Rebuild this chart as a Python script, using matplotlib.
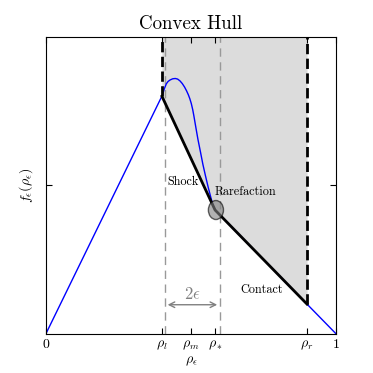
import matplotlib
matplotlib.use("Agg")
import matplotlib.pyplot as plt
from matplotlib.patches import Ellipse

plt.rcParams['font.family'] = 'cmr10'
plt.rcParams['mathtext.fontset'] = 'cm'
plt.rcParams['axes.unicode_minus'] = False

# densidades caracteristicas
rho_l = 0.4
rho_m = 0.5
rho_star = 0.583
rho_r = 0.9
eps_lo = 0.41
eps_hi = 0.60

# flujo regularizado f_eps(rho)
rho_curve = [0.0, 0.402, 0.408, 0.415, 0.421, 0.428, 0.437, 0.446, 0.454,
             0.462, 0.470, 0.478, 0.485, 0.491, 0.496, 0.501, 0.506,
             0.510, 0.517, 0.524, 0.533, 0.541, 0.550, 0.559, 0.568,
             0.576, 0.583, 1.0]
f_curve = [0.0, 0.805, 0.825, 0.842, 0.850, 0.855, 0.859, 0.860, 0.858,
           0.852, 0.843, 0.831, 0.818, 0.805, 0.792, 0.776, 0.755,
           0.734, 0.694, 0.655, 0.611, 0.571, 0.532, 0.495, 0.461,
           0.432, 0.417, 0.0]

# envolvente convexa
rho_hull = [rho_l, rho_star, rho_r]
f_hull = [0.8, 0.417, 0.1]

xticks = [0.0, rho_l, rho_m, rho_star, rho_r, 1.0]
xticklabels = ['0', r'$\rho_l$', '$\\rho_m$\n$\\rho_\\epsilon$', r'$\rho_*$',
               r'$\rho_r$', '1']

fig = plt.figure(figsize=(3.73, 3.73), dpi=100)
ax = fig.add_axes([0.123, 0.105, 0.778, 0.796])

ax.fill_between(rho_hull, f_hull, 1.0, color='#dcdcdc', lw=0, zorder=0)
ax.plot(rho_curve, f_curve, color='blue', lw=1.0, zorder=2)
ax.plot(rho_hull, f_hull, color='black', lw=2.0, zorder=3)

ax.plot([rho_l, rho_l], [f_hull[0], 1.0], 'k--', lw=2.0, zorder=3)
ax.plot([rho_r, rho_r], [f_hull[-1], 1.0], 'k--', lw=2.0, zorder=3)
ax.axvline(eps_lo, color='#999999', ls=(0, (6, 4)), lw=1.0, zorder=1)
ax.axvline(eps_hi, color='#999999', ls=(0, (6, 4)), lw=1.0, zorder=1)

ax.add_patch(Ellipse((rho_star + 0.003, f_hull[1]), 0.052, 0.064,
                     facecolor='gray', edgecolor='black', alpha=0.6,
                     lw=1.0, zorder=4))

ax.annotate('', xy=(eps_lo, 0.098), xytext=(eps_hi, 0.098),
            arrowprops=dict(arrowstyle='<->', color='gray', lw=1.0))
ax.text((eps_lo + eps_hi) / 2, 0.108, r'$2\epsilon$', color='gray',
        fontsize=12, ha='center', va='bottom')

ax.text(0.417, 0.512, 'Shock', fontsize=8.8, va='center', ha='left')
ax.text(0.583, 0.479, 'Rarefaction', fontsize=8.8, va='center', ha='left')
ax.text(0.671, 0.148, 'Contact', fontsize=8.8, va='center', ha='left')

ax.set_xlim(0, 1)
ax.set_ylim(0, 1)
ax.set_xticks(xticks)
ax.set_xticklabels(xticklabels, fontsize=10)
ax.set_yticks([0.5])
ax.set_yticklabels([''])
ax.tick_params(direction='in', top=True, right=True, length=4)
ax.set_ylabel(r'$f_\epsilon(\rho_\epsilon)$', fontsize=10)
ax.set_title('Convex Hull', fontsize=13.6)

plt.savefig('out.png', dpi=100)
